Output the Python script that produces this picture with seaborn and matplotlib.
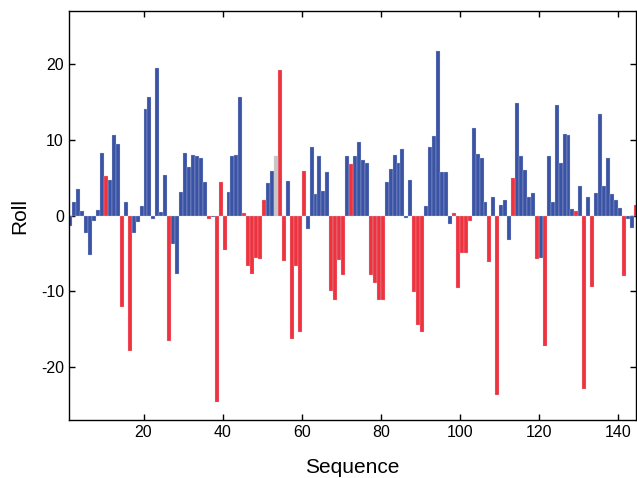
import numpy as np
import pandas as pd
import seaborn as sns
from matplotlib import pyplot as plt

# residue index, roll value, residue class
sequence = list(range(1, 145))
roll = [
    -1.4, 1.8, 3.5, 0.6, -2.3, -5.2, -0.7, 0.7, 8.2, 5.2,
    4.7, 10.6, 9.4, -12.0, 1.8, -17.9, -2.3, -0.8, 1.2, 14.1,
    15.6, -0.4, 19.5, 0.5, 5.4, -16.6, -3.7, -7.7, 3.1, 8.3,
    6.4, 8.0, 7.9, 7.6, 4.4, -0.5, -0.2, -24.6, 4.4, -4.6,
    3.1, 7.9, 8.0, 15.6, 0.35, -6.7, -7.7, -5.6, -5.7, 2.0,
    4.3, 5.9, 7.9, 19.2, -6.0, 4.6, -16.3, -6.6, -15.3, 5.9,
    -1.8, 9.0, 2.8, 7.8, 3.2, 5.7, -9.9, -11.1, -5.9, -7.8,
    7.8, 6.8, 7.8, 9.7, 7.4, 6.9, -7.8, -8.9, -11.2, -11.1,
    4.4, 6.1, 8.0, 7.0, 8.8, -0.3, 4.7, -10.1, -14.4, -15.4,
    1.2, 9.0, 10.5, 21.7, 5.7, 5.8, -1.1, 0.35, -9.5, -5.0,
    -5.0, -0.75, 11.6, 8.1, 7.6, 1.8, -6.1, 2.5, -23.7, 1.4,
    2.0, -3.2, 5.0, 14.8, 7.9, 6.0, 2.5, 3.0, -5.7, -5.6,
    -17.2, 7.9, 1.8, 14.6, 7.0, 10.8, 10.6, 0.9, 0.6, 3.9,
    -22.9, 2.4, -9.4, 3.0, 13.4, 3.9, 7.6, 2.9, 2.1, 1.0,
    -8.0, -0.4, -1.6, 1.4,
]
group = list(
    "BBBBBBBBBR" "BBBRBRBBBB"
    "BBBBBRBBBB" "BBBBBRBRRR"
    "BBBBRRRRRR" "BBGRRBRRRR"
    "BBBBBBRRRR" "BRBBBBRRRR"
    "BBBBBBBRRR" "BBBBBBBRRR"
    "RRBBBBRBRB" "BBRBBBBBRB"
    "RBBBBBBBRB" "RBRBBBBBBB"
    "RBBR"
)

df = pd.DataFrame({'Sequence': sequence, 'Roll': roll, 'group': group})
# bars span [i, i+1]
df['pos'] = df['Sequence'] + 0.5

palette = {'B': '#3a53a4', 'R': '#ef323c', 'G': '#c6c6c6'}

sns.set_theme(style='ticks')
plt.rcParams['font.family'] = ['Liberation Sans', 'DejaVu Sans']
plt.rcParams['xtick.direction'] = 'in'
plt.rcParams['ytick.direction'] = 'in'
plt.rcParams['axes.unicode_minus'] = False

fig = plt.figure(figsize=(6.37, 4.78), dpi=100)
ax = fig.add_axes([0.108, 0.121, 0.89, 0.856])

sns.barplot(data=df, x='pos', y='Roll', hue='group', palette=palette,
            native_scale=True, dodge=False, width=1, errorbar=None,
            saturation=1, legend=False, edgecolor='#c8d0ea',
            linewidth=0.2, ax=ax)

ax.set_xlim(1.1, 144.5)
ax.set_ylim(-27, 27)
ax.set_xticks([20, 40, 60, 80, 100, 120, 140])
ax.set_yticks([-20, -10, 0, 10, 20])
ax.tick_params(top=True, right=True, labelsize=11.5, length=4, width=1,
               color='black', labelcolor='black')
for s in ax.spines.values():
    s.set_color('black')
    s.set_linewidth(1)
ax.set_xlabel('Sequence', fontsize=15, labelpad=13, color='black')
ax.set_ylabel('Roll', fontsize=15, labelpad=8, color='black')

fig.savefig('out.png', dpi=100)
